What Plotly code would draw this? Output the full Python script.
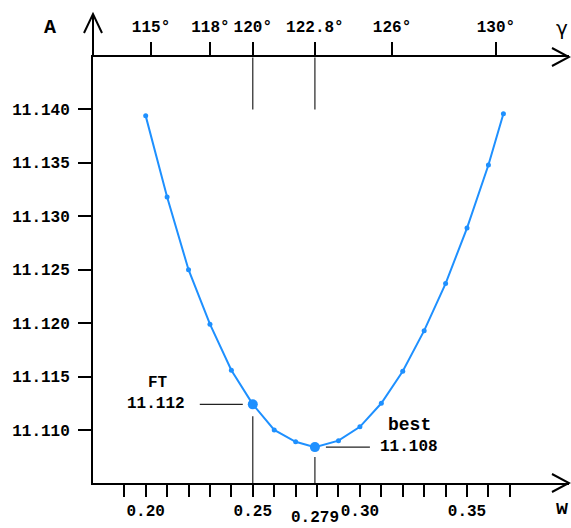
import plotly.graph_objects as go

# ---- data ----
w_vals = [0.20, 0.21, 0.22, 0.23, 0.24, 0.25, 0.26, 0.27, 0.279, 0.29,
          0.30, 0.31, 0.32, 0.33, 0.34, 0.35, 0.36, 0.367]
A_vals = [11.1394, 11.1318, 11.1250, 11.1199, 11.1156, 11.1124, 11.1100,
          11.1089, 11.1084, 11.1090, 11.1103, 11.1125, 11.1155, 11.1193,
          11.1237, 11.1289, 11.1348, 11.1396]

ft_w, ft_A, ft_label = 0.25, 11.1124, "11.112"
best_w, best_A, best_label = 0.279, 11.1084, "11.108"

x_minor_ticks = [0.19, 0.20, 0.21, 0.22, 0.23, 0.24, 0.25, 0.26, 0.27, 0.28,
                 0.29, 0.30, 0.31, 0.32, 0.33, 0.34, 0.35, 0.36, 0.37]
x_major_ticks = [0.20, 0.25, 0.30, 0.35]
x_major_labels = ["0.20", "0.25", "0.30", "0.35"]

y_ticks = [11.110, 11.115, 11.120, 11.125, 11.130, 11.135, 11.140]
y_labels = ["11.110", "11.115", "11.120", "11.125", "11.130", "11.135", "11.140"]

gamma_pos = [0.2025, 0.2302, 0.25, 0.279, 0.3150, 0.3635]
gamma_labels = ["115°", "118°", "120°", "122.8°", "126°", "130°"]

# ---- layout geometry ----
W, H = 571, 528
ML, MR, MT, MB = 93, 2, 57, 45
PW, PH = W - ML - MR, H - MT - MB
X_RANGE = [0.17540, 0.39762]
Y_RANGE = [11.10504, 11.14491]

def px(x):
    return (x - ML) / PW

def py(y):
    return (H - MB - y) / PH

FONT = "Courier New, Liberation Mono, monospace"
BLUE = "#1E90FF"
DARK = "#222222"

fig = go.Figure()
fig.add_trace(go.Scatter(
    x=w_vals, y=A_vals, mode="lines+markers",
    line=dict(color=BLUE, width=2),
    marker=dict(color=BLUE, size=5),
    showlegend=False, hoverinfo="skip", cliponaxis=False))
fig.add_trace(go.Scatter(
    x=[ft_w, best_w], y=[ft_A, best_A], mode="markers",
    marker=dict(color=BLUE, size=10),
    showlegend=False, hoverinfo="skip"))
# invisible trace for top axis
fig.add_trace(go.Scatter(x=[ft_w], y=[ft_A], xaxis="x2", mode="markers",
                         marker=dict(opacity=0), showlegend=False, hoverinfo="skip"))

tickfont = dict(family=FONT, size=16, color="black", weight="bold")

fig.update_layout(
    width=W, height=H,
    margin=dict(l=ML, r=MR, t=MT, b=MB, pad=0, autoexpand=False),
    paper_bgcolor="white", plot_bgcolor="white",
    xaxis=dict(range=X_RANGE, showgrid=False, zeroline=False, automargin=False,
               showline=True, linecolor="black", linewidth=2,
               tickmode="array", tickvals=x_minor_ticks,
               ticktext=[x_major_labels[x_major_ticks.index(t)] if t in x_major_ticks else ""
                         for t in x_minor_ticks],
               ticks="outside", ticklen=12, tickwidth=1.5, tickcolor="black",
               tickfont=tickfont, ticklabelstandoff=0),
    xaxis2=dict(range=X_RANGE, overlaying="x", side="top", anchor="y", automargin=False,
                showgrid=False, zeroline=False,
                showline=True, linecolor="black", linewidth=2,
                tickmode="array", tickvals=gamma_pos, ticktext=gamma_labels,
                ticks="outside", ticklen=13, tickwidth=1.5, tickcolor="black",
                tickfont=tickfont, ticklabelstandoff=4),
    yaxis=dict(range=Y_RANGE, showgrid=False, zeroline=False, automargin=False,
               showline=True, linecolor="black", linewidth=2,
               tickmode="array", tickvals=y_ticks, ticktext=y_labels,
               ticks="outside", ticklen=13, tickwidth=1.5, tickcolor="black",
               tickfont=tickfont, ticklabelstandoff=5),
)

shapes = []
# y axis extension above top axis
shapes.append(dict(type="line", xref="paper", yref="paper", x0=0, x1=0,
                   y0=1, y1=py(14), line=dict(color="black", width=2)))
# chevron arrows
def chevron(tip, a, b):
    return dict(type="path", xref="paper", yref="paper",
                path=f"M {px(a[0])} {py(a[1])} L {px(tip[0])} {py(tip[1])} L {px(b[0])} {py(b[1])}",
                line=dict(color="black", width=2))
shapes.append(chevron((93, 14), (84, 33), (102, 33)))
shapes.append(chevron((569, 57), (552, 48), (552, 66)))
shapes.append(chevron((569, 483), (552, 474), (552, 492)))

# long lines from top axis down (120°, 122.8°)
for wv in [ft_w, best_w]:
    shapes.append(dict(type="line", xref="x", yref="y", x0=wv, x1=wv,
                       ysizemode="pixel", yanchor=11.140, y0=0, y1=52,
                       line=dict(color=DARK, width=1.2)))
# leader lines
shapes.append(dict(type="line", xref="x", yref="y", xsizemode="pixel", xanchor=ft_w,
                   x0=-53, x1=-10, y0=ft_A, y1=ft_A, line=dict(color=DARK, width=1.2)))
shapes.append(dict(type="line", xref="x", yref="y", xsizemode="pixel", xanchor=best_w,
                   x0=11, x1=55, y0=best_A, y1=best_A, line=dict(color=DARK, width=1.2)))
shapes.append(dict(type="line", xref="x", yref="y", x0=ft_w, x1=ft_w,
                   ysizemode="pixel", yanchor=ft_A, y0=-12, y1=-93,
                   line=dict(color=DARK, width=1.2)))
shapes.append(dict(type="line", xref="x", yref="y", x0=best_w, x1=best_w,
                   ysizemode="pixel", yanchor=best_A, y0=-10, y1=-62,
                   line=dict(color=DARK, width=1.2)))
fig.update_layout(shapes=shapes)

lab = dict(family=FONT, size=16, color="black", weight="bold")
ann = []
ann.append(dict(x=ft_w, y=ft_A, xref="x", yref="y", text=ft_label, showarrow=False,
                xanchor="right", yanchor="middle", xshift=-66, font=lab))
ann.append(dict(x=ft_w, y=ft_A, xref="x", yref="y", text="FT", showarrow=False,
                xanchor="center", yanchor="middle", xshift=-95, yshift=21, font=lab))
ann.append(dict(x=best_w, y=best_A, xref="x", yref="y", text=best_label, showarrow=False,
                xanchor="left", yanchor="middle", xshift=63, font=lab))
ann.append(dict(x=best_w, y=best_A, xref="x", yref="y", text="best", showarrow=False,
                xanchor="center", yanchor="middle", xshift=95, yshift=22,
                font=dict(family=FONT, size=18, color="black", weight="bold")))
ann.append(dict(x=best_w, y=0, xref="x", yref="paper", text="0.279", showarrow=False,
                xanchor="center", yanchor="middle", yshift=-35, font=lab))
ann.append(dict(x=px(50), y=py(27), xref="paper", yref="paper", text="A", showarrow=False,
                xanchor="center", yanchor="middle",
                font=dict(family=FONT, size=20, color="black", weight="bold")))
ann.append(dict(x=px(562), y=py(28), xref="paper", yref="paper", text="γ", showarrow=False,
                xanchor="center", yanchor="middle",
                font=dict(family="DejaVu Sans", size=20, color="black")))
ann.append(dict(x=px(562), y=py(508), xref="paper", yref="paper", text="w", showarrow=False,
                xanchor="center", yanchor="middle",
                font=dict(family=FONT, size=20, color="black", weight="bold")))
fig.update_layout(annotations=ann)

fig.write_html("out.html", config={"displayModeBar": False},
               post_script="document.body.style.margin='0';document.body.style.padding='0';")
